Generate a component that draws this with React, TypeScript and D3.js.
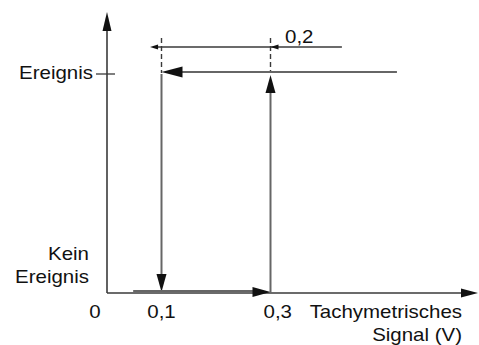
import React from "react";
import * as d3 from "d3";

// --- data ---
const xTicks = [0, 0.1, 0.3];
const xTickLabels = ["0", "0,1", "0,3"];
const stateLevels = [0, 1];
const stateLabels = [["Kein", "Ereignis"], ["Ereignis"]];
const thresholdOff = 0.1;
const thresholdOn = 0.3;
const hysteresisLabel = "0,2";
const riseStart = [0.048];
const fallStart = [0.532];
const dimExtent = [0.079, 0.431];
const xAxisTitle = ["Tachymetrisches", "Signal (V)"];

const W = 479;
const H = 345;

const x = d3.scaleLinear().domain([0, 0.3]).range([107, 270.5]);
const y = d3.scaleLinear().domain([0, 1]).range([293, 73]);

const LINE = "#666";
const AXIS = "#3a3a3a";
const TXT = "#111";
const SX = 1.17;
const FS = 17.5;

function arrow(tx: number, ty: number, dir: "l" | "r" | "u" | "d", len: number, half: number) {
  const p = d3.path();
  p.moveTo(tx, ty);
  if (dir === "l") { p.lineTo(tx + len, ty - half); p.lineTo(tx + len, ty + half); }
  if (dir === "r") { p.lineTo(tx - len, ty - half); p.lineTo(tx - len, ty + half); }
  if (dir === "u") { p.lineTo(tx - half, ty + len); p.lineTo(tx + half, ty + len); }
  if (dir === "d") { p.lineTo(tx - half, ty - len); p.lineTo(tx + half, ty - len); }
  p.closePath();
  return p.toString();
}

function T({ x: tx, y: ty, anchor = "start", children }: any) {
  return (
    <text
      transform={`translate(${tx},${ty}) scale(${SX},1)`}
      textAnchor={anchor}
      fontFamily="'Liberation Sans', Arial, Helvetica, sans-serif"
      fontSize={FS}
      fill={TXT}
    >
      {children}
    </text>
  );
}

export default function App() {
  const x0 = x(0);
  const y0 = y(0);
  const y1 = y(1);
  const xOff = x(thresholdOff);
  const xOn = x(thresholdOn);
  const dimY = 47;
  return (
    <svg
      width={W}
      height={H}
      style={{ position: "absolute", left: 0, top: 0, background: "#fff" }}
    >
      {/* axes */}
      <line x1={x0} y1={y0} x2={x0} y2={28} stroke={AXIS} strokeWidth={1.6} />
      <path d={arrow(x0, 12, "u", 19, 4.5)} fill="#111" />
      <line x1={x0} y1={y0} x2={462} y2={y0} stroke={AXIS} strokeWidth={1.6} />
      <path d={arrow(478, y0, "r", 17, 4.5)} fill="#111" />

      {/* y tick at Ereignis */}
      <line x1={96} y1={y1 + 1} x2={115} y2={y1 + 1} stroke={AXIS} strokeWidth={1.3} />

      {/* dashed threshold guides */}
      {[thresholdOff, thresholdOn].map((v) => (
        <line
          key={v}
          x1={x(v)}
          y1={38}
          x2={x(v)}
          y2={y1}
          stroke={AXIS}
          strokeWidth={1.4}
          strokeDasharray="5,3"
        />
      ))}

      {/* hysteresis dimension line */}
      <line x1={x(dimExtent[0]) + 6} y1={dimY} x2={x(dimExtent[1])} y2={dimY} stroke={AXIS} strokeWidth={1.4} />
      <path d={arrow(x(dimExtent[0]), dimY, "l", 8, 2.5)} fill="#111" />
      <path d={arrow(xOn, dimY, "l", 8, 2.5)} fill="#111" />
      <T x={285} y={43}>{hysteresisLabel}</T>

      {/* falling branch: Ereignis line leftwards, then down at 0.1 */}
      <line x1={x(fallStart[0])} y1={y1 - 1} x2={xOff + 18} y2={y1 - 1} stroke={LINE} strokeWidth={2} />
      <path d={arrow(xOff, y1 - 1, "l", 21, 5.5)} fill="#111" />
      <line x1={xOff} y1={y1 + 1} x2={xOff} y2={y0 - 16} stroke={LINE} strokeWidth={2} />
      <path d={arrow(xOff, y0 - 1, "d", 18, 5)} fill="#111" />

      {/* rising branch: bottom line rightwards, then up at 0.3 */}
      <line x1={x(riseStart[0])} y1={y0 - 2} x2={xOn - 15} y2={y0 - 2} stroke={LINE} strokeWidth={2} />
      <path d={arrow(xOn, y0 - 1, "r", 18, 5)} fill="#111" />
      <line x1={xOn} y1={y0} x2={xOn} y2={y1 + 16} stroke={LINE} strokeWidth={2} />
      <path d={arrow(xOn, y1 + 2, "u", 18, 5)} fill="#111" />

      {/* y labels */}
      {stateLevels.map((s, i) => {
        const lines = stateLabels[i];
        if (lines.length === 1) {
          return <T key={s} x={93} y={y(s) + 6} anchor="end">{lines[0]}</T>;
        }
        return (
          <g key={s}>
            <T x={89} y={y(s) - 33} anchor="end">{lines[0]}</T>
            <T x={89} y={y(s) - 10} anchor="end">{lines[1]}</T>
          </g>
        );
      })}

      {/* x tick labels */}
      {xTicks.map((v, i) => (
        <T key={v} x={v === 0 ? 95 : v === thresholdOn ? x(v) - 7 : x(v)} y={318} anchor={v === thresholdOn ? "start" : "middle"}>
          {xTickLabels[i]}
        </T>
      ))}

      {/* x axis title */}
      <T x={462} y={318} anchor="end">{xAxisTitle[0]}</T>
      <T x={462} y={341} anchor="end">{xAxisTitle[1]}</T>
    </svg>
  );
}
